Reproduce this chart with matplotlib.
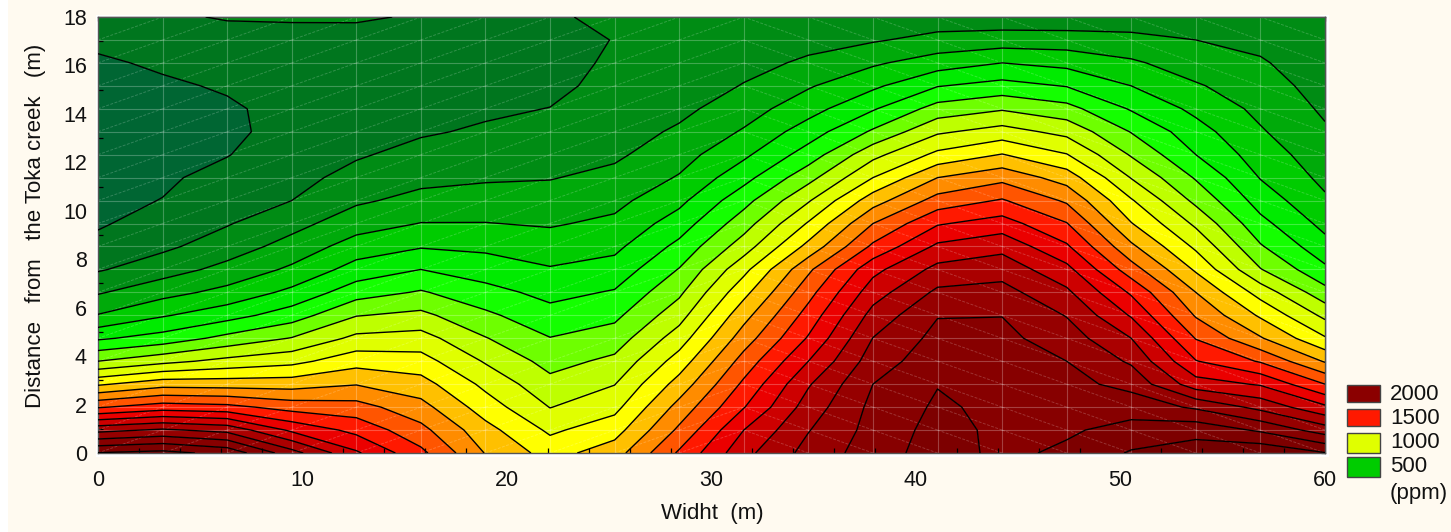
import numpy as np
import matplotlib
matplotlib.use("Agg")
import matplotlib.pyplot as plt
from matplotlib.colors import ListedColormap, BoundaryNorm
from matplotlib.patches import Rectangle

plt.rcParams['font.family'] = ['Liberation Sans', 'DejaVu Sans']

W, H = 1451, 532
BG = '#fffaf0'

# ppm, one list per column (left to right),
# each from the bottom row (0 m) to the top row (18 m)
c00 = [2105, 1770, 1390, 1085, 800, 585, 405, 290, 190, 125, 90, 80, 70, 65, 62, 68, 75, 90, 115, 170]
c01 = [2130, 1815, 1450, 1160, 870, 640, 490, 365, 255, 180, 137, 102, 88, 75, 75, 78, 90, 110, 145, 190]
c02 = [2070, 1770, 1430, 1155, 930, 730, 560, 430, 330, 250, 193, 160, 125, 97, 85, 91, 107, 140, 175, 205]
c03 = [1840, 1580, 1360, 1155, 970, 805, 650, 525, 418, 337, 267, 200, 170, 145, 125, 120, 125, 145, 175, 208]
c04 = [1615, 1470, 1340, 1195, 1060, 925, 795, 655, 540, 445, 355, 285, 230, 190, 165, 155, 155, 165, 185, 205]
c05 = [1425, 1330, 1235, 1140, 1040, 940, 825, 710, 600, 492, 403, 329, 273, 229, 190, 170, 165, 170, 185, 196]
c06 = [1195, 1135, 1050, 975, 890, 805, 720, 635, 550, 480, 403, 342, 288, 250, 212, 185, 170, 160, 160, 175]
c07 = [1060, 982, 897, 830, 765, 703, 635, 570, 508, 447, 390, 342, 295, 265, 235, 202, 175, 165, 165, 185]
c08 = [1155, 1058, 970, 897, 823, 748, 676, 609, 539, 476, 421, 372, 327, 283, 255, 245, 232, 215, 203, 225]
c09 = [1415, 1320, 1235, 1140, 1045, 950, 860, 780, 705, 627, 548, 474, 408, 360, 315, 275, 245, 228, 218, 232]
c10 = [1670, 1600, 1495, 1420, 1340, 1250, 1165, 1070, 970, 850, 755, 665, 565, 480, 410, 355, 305, 270, 240, 235]
c11 = [1835, 1795, 1745, 1690, 1600, 1510, 1440, 1365, 1280, 1130, 1010, 890, 765, 645, 550, 460, 390, 315, 270, 240]
c12 = [1950, 1935, 1925, 1900, 1850, 1802, 1735, 1655, 1570, 1420, 1300, 1155, 1000, 870, 715, 590, 480, 385, 290, 240]
c13 = [2048, 2035, 2015, 1996, 1960, 1930, 1895, 1820, 1730, 1620, 1490, 1340, 1200, 1025, 885, 740, 595, 450, 330, 245]
c14 = [1975, 1978, 1975, 1965, 1945, 1925, 1898, 1835, 1760, 1670, 1545, 1410, 1270, 1105, 940, 790, 635, 500, 345, 240]
c15 = [2020, 1985, 1958, 1930, 1900, 1850, 1795, 1720, 1630, 1515, 1405, 1285, 1155, 1005, 870, 735, 595, 470, 345, 235]
c16 = [2110, 2037, 1955, 1870, 1785, 1700, 1590, 1485, 1345, 1220, 1105, 1010, 895, 790, 695, 590, 500, 415, 330, 240]
c17 = [2150, 2065, 1885, 1645, 1505, 1395, 1290, 1200, 1085, 980, 880, 775, 690, 600, 540, 475, 410, 350, 300, 250]
c18 = [2180, 1985, 1770, 1590, 1390, 1210, 1085, 960, 805, 710, 630, 557, 495, 450, 410, 375, 345, 310, 275, 240]
c19 = [2105, 1850, 1620, 1400, 1190, 1010, 875, 735, 620, 535, 470, 415, 375, 345, 312, 285, 260, 245, 230, 220]

columns = [c00, c01, c02, c03, c04, c05, c06, c07, c08, c09,
           c10, c11, c12, c13, c14, c15, c16, c17, c18, c19]

levels = [0, 100, 200, 300, 400, 500, 600, 700, 800, 900, 1000, 1100, 1200,
          1300, 1400, 1500, 1600, 1700, 1800, 1900, 2000, 2100, 3000]
band_colors = ['#006633', '#00761e', '#008c14', '#00aa0a', '#00cc00', '#00eb00',
               '#14ff00', '#6eff00', '#beff00', '#e0ff00', '#ffff00', '#ffc000',
               '#ff8c00', '#ff5500', '#ff1900', '#eb0000', '#cd0000', '#aa0000',
               '#960000', '#870000', '#7d0000', '#730000']

legend_labels = ['2000', '1500', '1000', '500']
legend_colors = ['#8b0000', '#ff1900', '#e0ff00', '#00cc00']

x_ticklabels = [0, 10, 20, 30, 40, 50, 60]
y_ticklabels = [0, 2, 4, 6, 8, 10, 12, 14, 16, 18]

ppm = np.array(columns, dtype=float).T
x = np.linspace(0, 60, ppm.shape[1])
y = np.linspace(0, 18, ppm.shape[0])

fig = plt.figure(figsize=(W / 100, H / 100), dpi=100, facecolor=BG)


def px_box(x0, y0, x1, y1):
    # pixel box (y down) to figure fractions
    return (x0 / W, 1 - y1 / H, (x1 - x0) / W, (y1 - y0) / H)


# white margin strip and the white edge round the plot
fig.add_artist(Rectangle((0, 0), 8 / W, 1, transform=fig.transFigure, fc='white', ec='none', zorder=-2))
bx = px_box(96, 15, 1329, 457)
fig.add_artist(Rectangle(bx[:2], bx[2], bx[3], transform=fig.transFigure, fc='white', ec='none', zorder=-1))

ax = fig.add_axes(px_box(98, 17, 1325, 453))
ax.patch.set_alpha(0)

cmap = ListedColormap(band_colors)
norm = BoundaryNorm(levels, cmap.N)
ax.contourf(x, y, ppm, levels=levels, cmap=cmap, norm=norm, antialiased=True)

# faint surface mesh, as the plotting package leaves it
for xi in x:
    ax.plot([xi, xi], [y[0], y[-1]], color='white', alpha=0.25, lw=0.8, zorder=2)
for yi in y:
    ax.plot([x[0], x[-1]], [yi, yi], color='white', alpha=0.25, lw=0.8, zorder=2)
for i in range(len(x) - 1):
    for j in range(len(y) - 1):
        if i < 10:
            ax.plot([x[i], x[i + 1]], [y[j], y[j + 1]], color='white', alpha=0.2, lw=0.7, ls=(0, (3, 1.5)), zorder=2)
        else:
            ax.plot([x[i], x[i + 1]], [y[j + 1], y[j]], color='white', alpha=0.2, lw=0.7, ls=(0, (3, 1.5)), zorder=2)

ax.contour(x, y, ppm, levels=levels[1:-1], colors='black', linewidths=1.0, zorder=3)

ax.set_xlim(0, 60)
ax.set_ylim(0, 18)
ax.set_xticks(x_ticklabels)
ax.set_yticks(y_ticklabels)
ax.set_xticks(np.arange(0, 61, 2), minor=True)
ax.set_yticks(np.arange(0, 19, 1), minor=True)
ax.tick_params(axis='both', which='major', direction='in', length=0, labelsize=15.5, colors='#111111')
ax.tick_params(axis='x', which='major', pad=12)
ax.tick_params(axis='y', which='major', pad=8)
ax.tick_params(axis='both', which='minor', direction='in', length=3.5, width=0.9, color='black')

top = ax.secondary_xaxis('top')
top.set_xticks(np.arange(0, 60.1, 1.5))
top.tick_params(direction='in', length=3, width=0.9, labeltop=False, color='black')
right = ax.secondary_yaxis('right')
right.set_yticks(np.arange(0, 18.01, 18 / 21.6))
right.tick_params(direction='in', length=3, width=0.9, labelright=False, color='black')

for a in (ax, top, right):
    for s in a.spines.values():
        s.set_color('#555555')
        s.set_linewidth(1.0)

fig.text(712 / W, 1 - 513 / H, 'Widht  (m)', ha='center', va='center', fontsize=16, color='#111111')
fig.text(36 / W, 1 - 226 / H, 'Distance   from   the Toka creek   (m)', rotation=90, ha='center', va='center',
         fontsize=16, color='#111111')

# legend, drawn by hand on the figure
swatch_top = [385, 409, 433, 457]
swatch_bot = [402, 426, 453, 477]
text_y = [394, 418, 442, 467]
for lab, col, t, b, ty in zip(legend_labels, legend_colors, swatch_top, swatch_bot, text_y):
    bx = px_box(1347, t, 1380, b)
    fig.add_artist(Rectangle(bx[:2], bx[2], bx[3], transform=fig.transFigure, fc=col, ec='#444444', lw=1))
    fig.text(1390 / W, 1 - ty / H, lab, ha='left', va='center', fontsize=16, color='#111111')
fig.text(1390 / W, 1 - 494 / H, '(ppm)', ha='left', va='center', fontsize=16, color='#111111')

fig.savefig('out.png', dpi=100, facecolor=BG)
